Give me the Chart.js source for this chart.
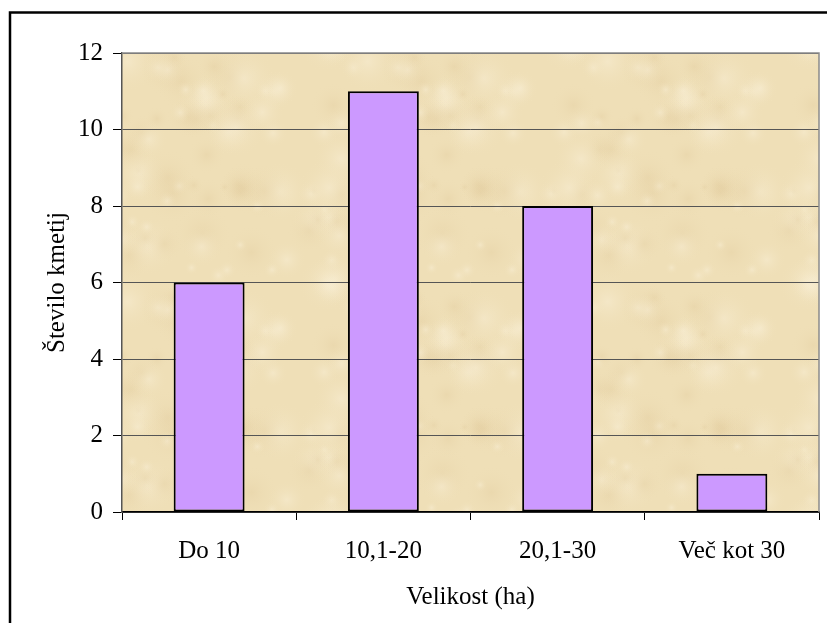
<!DOCTYPE html>
<html>
<head>
<meta charset="utf-8">
<script src="https://cdn.jsdelivr.net/npm/chart.js@4.4.1/dist/chart.umd.min.js"></script>
<style>
    html, body { margin: 0; padding: 0; background: #fff; }
    #wrap { width: 827px; height: 623px; }
</style>
</head>
<body>
<div id="wrap"><canvas id="kmetijeChart" width="827" height="623"></canvas></div>
<script>
const kategorije = ['Do 10', '10,1-20', '20,1-30', 'Več kot 30'];
const steviloKmetij = [6, 11, 8, 1];
const yMin = 0;
const yMax = 12;
const yKorak = 2;

const pisava = 'Liberation Serif, Times New Roman, serif';

// papirnata tekstura za ozadje risalne ploskve (madeži se ponovijo čez rob, da ni šivov)
function makeTexture() {
    const S = 240;
    const c = document.createElement('canvas');
    c.width = S; c.height = S;
    const g = c.getContext('2d');
    g.fillStyle = '#efdfb7';
    g.fillRect(0, 0, S, S);
    let seed = 11;
    const rnd = () => { seed = (seed * 16807) % 2147483647; return seed / 2147483647; };
    for (let i = 0; i < 90; i++) {
        const x = rnd() * S, y = rnd() * S, r = 6 + rnd() * 26;
        const light = rnd() > 0.45;
        for (const dx of [-S, 0, S]) {
            for (const dy of [-S, 0, S]) {
                const cx = x + dx, cy = y + dy;
                const grad = g.createRadialGradient(cx, cy, 0, cx, cy, r);
                grad.addColorStop(0, light ? 'rgba(250,241,218,0.45)' : 'rgba(222,198,150,0.28)');
                grad.addColorStop(1, 'rgba(239,223,183,0)');
                g.fillStyle = grad;
                g.fillRect(cx - r, cy - r, r * 2, r * 2);
            }
        }
    }
    return c;
}
const tekstura = makeTexture();

const ozadje = {
    id: 'ozadje',
    beforeDraw(chart) {
        const { ctx, chartArea: a } = chart;
        ctx.save();
        ctx.fillStyle = ctx.createPattern(tekstura, 'repeat');
        ctx.fillRect(a.left, a.top, a.right - a.left, a.bottom - a.top);
        ctx.restore();
    },
    afterDraw(chart) {
        const { ctx, chartArea: a } = chart;
        ctx.save();
        // rob risalne ploskve (zgoraj, desno)
        ctx.strokeStyle = '#8a8a8a';
        ctx.lineWidth = 1.5;
        ctx.beginPath();
        ctx.moveTo(a.left, a.top);
        ctx.lineTo(a.right, a.top);
        ctx.lineTo(a.right, a.bottom);
        ctx.stroke();
        // zunanji okvir
        ctx.strokeStyle = '#000';
        ctx.lineWidth = 2.5;
        ctx.beginPath();
        ctx.moveTo(10, 640);
        ctx.lineTo(10, 12.5);
        ctx.lineTo(840, 12.5);
        ctx.stroke();
        ctx.restore();
    }
};

new Chart(document.getElementById('kmetijeChart'), {
    type: 'bar',
    data: {
        labels: kategorije,
        datasets: [{
            label: 'Število kmetij',
            data: steviloKmetij,
            backgroundColor: '#cc99ff',
            borderColor: '#000',
            borderWidth: 2,
            borderSkipped: false,
            categoryPercentage: 1,
            barPercentage: 0.407
        }]
    },
    options: {
        responsive: false,
        animation: false,
        layout: { padding: { left: 0, right: 8, top: 53, bottom: 0 } },
        plugins: {
            legend: { display: false },
            tooltip: { enabled: false }
        },
        scales: {
            x: {
                grid: {
                    offset: true,
                    drawOnChartArea: false,
                    tickLength: 8,
                    tickColor: '#000'
                },
                border: { color: '#000', width: 1.5 },
                ticks: {
                    color: '#000',
                    padding: 16,
                    maxRotation: 0,
                    font: { family: pisava, size: 25 }
                },
                title: {
                    display: true,
                    text: 'Velikost (ha)',
                    color: '#000',
                    font: { family: pisava, size: 25 },
                    padding: { top: 4, bottom: 11 }
                },
                afterFit(scale) { scale.height = 111; }
            },
            y: {
                min: yMin,
                max: yMax,
                grid: {
                    color: '#555',
                    lineWidth: 1,
                    tickLength: 9,
                    tickColor: '#000'
                },
                border: { color: '#555', width: 1.5 },
                ticks: {
                    stepSize: yKorak,
                    color: '#000',
                    padding: 10,
                    font: { family: pisava, size: 25 }
                },
                title: {
                    display: true,
                    text: 'Število kmetij',
                    color: '#000',
                    font: { family: pisava, size: 25 },
                    padding: { top: 42, bottom: 0 }
                },
                afterFit(scale) { scale.width = 122; }
            }
        }
    },
    plugins: [ozadje]
});
</script>
</body>
</html>
